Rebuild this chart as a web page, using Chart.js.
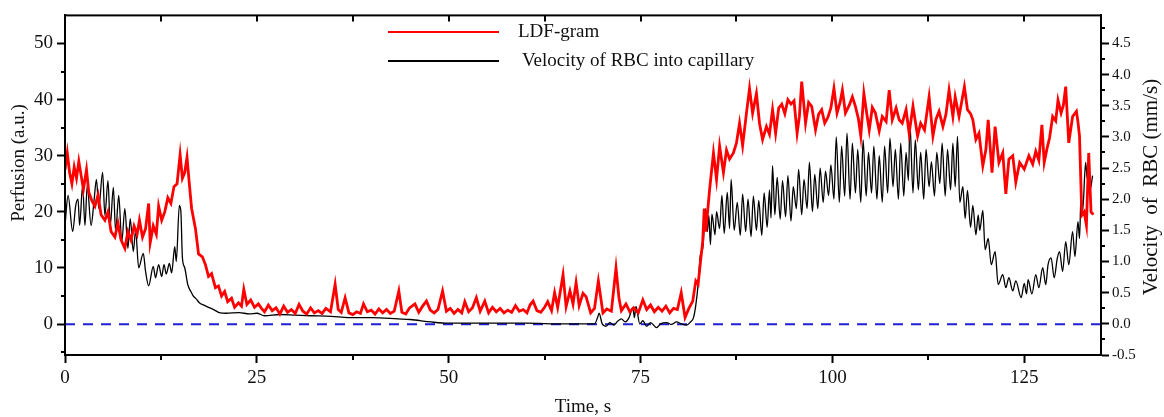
<!DOCTYPE html>
<html>
<head>
<meta charset="utf-8">
<script src="https://cdn.jsdelivr.net/npm/chart.js@4"></script>
<style>
  html, body { margin: 0; padding: 0; background: #fff; }
  #wrap { width: 1164px; height: 417px; }
</style>
</head>
<body>
<div id="wrap"><canvas id="graph" width="1164" height="417"></canvas></div>
<script>
// [time s, perfusion a.u.]
const ldfGram = [
  [0,27.5],[0.3,30.5],[0.6,27],[0.9,25],[1.2,28],[1.5,26],[1.8,29],[2.1,26.5],[2.4,24],[2.8,27.5],
  [3.1,23.5],[3.5,22],[3.9,21],[4.3,23],[4.7,19.5],[5.2,18.5],[5.6,20],[6.0,16.5],[6.5,15.5],[6.9,18],
  [7.3,15],[7.8,13.5],[8.2,16.5],[8.6,15],[9.0,17.5],[9.4,16],[9.7,18.5],[10.1,15.5],[10.5,17],[10.9,21.5],
  [11.1,14.5],[11.5,17.5],[11.9,16],[12.2,21],[12.6,18.5],[13.0,20],[13.4,22.5],[13.8,21.5],[14.2,24.5],[14.6,25],
  [15.0,30.2],[15.3,26],[15.6,27],[15.9,29.7],[16.2,25],[16.5,20.6],[17.0,17],[17.4,12.5],[17.9,12],[18.3,10.6],
  [18.7,8.5],[19.1,9],[19.6,6.5],[20.0,6.8],[20.4,5],[20.8,5.8],[21.2,4],[21.7,4.6],[22.1,3],[22.6,3.8],
  [23.0,3.2],[23.3,6.2],[23.7,3.5],[24.2,4.3],[24.7,3],[25.2,3.6],[25.6,2.8],[26.0,2.2],[26.5,3.4],[27.0,2.4],
  [27.5,2.9],[28.0,1.8],[28.5,3.2],[29.0,2.1],[29.5,2.6],[30.0,1.9],[30.5,3.5],[31.0,2.3],[31.5,1.8],[32.0,2.9],
  [32.5,2.0],[33.0,2.4],[33.5,1.9],[34.0,2.8],[34.6,2.2],[35.2,7.1],[35.6,2.6],[36.0,2.1],[36.5,4.7],[37.0,2.0],
  [37.5,1.7],[38.0,2.2],[38.5,1.9],[38.9,3.6],[39.4,2.2],[39.9,2.5],[40.4,1.8],[40.9,2.7],[41.4,2.0],[41.9,2.6],
  [42.4,1.9],[42.9,2.3],[43.5,5.9],[43.9,2.1],[44.4,1.8],[44.9,2.9],[45.6,3.6],[46.1,2.1],[46.6,3.2],[47.1,4.1],
  [47.6,2.5],[48.1,2.0],[48.6,2.6],[49.2,5.9],[49.7,2.3],[50.2,2.8],[50.7,1.9],[51.2,2.6],[51.7,2.0],[52.1,4.0],
  [52.6,2.2],[53.1,2.9],[53.6,4.7],[54.1,2.3],[54.7,4.1],[55.2,2.0],[55.7,3.0],[56.2,2.2],[56.7,2.8],[57.2,2.0],
  [57.7,2.5],[58.2,2.1],[58.7,3.3],[59.2,2.3],[59.7,2.6],[60.2,2.0],[60.6,3.4],[61.0,4.1],[61.5,2.4],[62.0,2.1],
  [62.5,3.0],[62.9,4.0],[63.4,2.4],[63.8,5.6],[64.2,3.0],[64.9,8.8],[65.3,3.1],[65.8,5.9],[66.2,3.6],[66.6,7.4],
  [67.0,3.3],[67.5,5.5],[67.9,4.9],[68.5,2.0],[69.0,2.8],[69.5,7.7],[70.1,2.0],[70.6,2.7],[71.2,2.3],[71.8,10.0],
  [72.2,4.5],[72.5,2.4],[73.1,3.6],[73.6,2.2],[74.1,2.9],[74.7,2.0],[75.3,4.3],[75.8,2.6],[76.3,3.4],[76.8,2.2],
  [77.3,3.0],[77.8,2.3],[78.3,3.2],[78.8,2.0],[79.3,2.8],[79.8,2.6],[80.3,5.6],[80.8,1.2],[81.3,2.8],[81.8,4.1],
  [82.2,7.7],[82.5,7.1],[82.8,11],[83.1,14.7],[83.3,20.6],[83.5,16.5],[84.0,24],[84.5,30.5],[84.9,25.8],[85.3,31.7],
  [85.8,27],[86.2,31],[86.6,29.4],[87.1,30.5],[87.5,32.3],[87.9,35.8],[88.3,31.8],[88.8,37.6],[89.2,42],[89.6,37.6],
  [90.1,41.1],[90.5,35.8],[90.9,32.9],[91.4,35.2],[91.8,33.8],[92.2,38.2],[92.6,34],[93.0,38.5],[93.4,39.2],[93.8,37.5],
  [94.2,40],[94.6,39.2],[95.0,39.8],[95.4,34],[95.7,37],[96.0,43.2],[96.5,35.8],[96.9,39.5],[97.3,38.8],[97.8,34.6],
  [98.2,37.4],[98.6,38.2],[99.0,35.8],[99.4,36.8],[99.8,38.5],[100.2,42],[100.6,37.6],[101.0,39.5],[101.3,41.7],[101.7,37.6],
  [102.2,39],[102.6,40.5],[103.0,38.8],[103.4,36.5],[103.7,33.5],[104.1,41.1],[104.5,37.3],[104.8,34.6],[105.2,38.6],[105.6,37.6],
  [106.1,34.4],[106.5,37],[107.0,36.1],[107.4,41.7],[107.8,36.4],[108.3,38.5],[108.7,36.4],[109.1,35.8],[109.6,38.2],[110.0,34],
  [110.5,38.8],[111.1,33.5],[111.5,35.8],[112.0,34.6],[112.6,40.5],[113.1,33.5],[113.5,36.5],[113.9,37.9],[114.4,35.2],[114.8,37.4],
  [115.2,41.7],[115.7,37],[116.0,40.5],[116.5,37],[117.2,42.3],[117.6,38.2],[118.0,37.5],[118.3,36.4],[118.7,32.9],[119.1,34],
  [119.6,28.2],[120.0,31.1],[120.3,36.4],[120.8,27],[121.2,35.2],[121.7,28.8],[122.2,30.5],[122.6,23.2],[123.0,29.4],[123.5,30],
  [123.9,25.3],[124.4,28.8],[125.0,27.6],[125.6,30],[126.1,28.5],[126.5,30.8],[126.9,29.2],[127.3,35.5],[127.6,28.8],[128.0,31.5],
  [128.3,33.2],[128.7,37],[129.1,36.2],[129.4,39.9],[129.8,37.6],[130.1,39],[130.4,42.3],[130.8,32.3],[131.3,37],[131.8,37.9],
  [132.0,36],[132.2,33.5],[132.5,19.4],[132.8,20],[133.1,17.6],[133.4,30.5],[133.7,20],[134.0,19.5]
];

// [time s, velocity mm/s]
const rbcVelocity = [
  [0,1.58],[0.4,2.06],[1.0,1.48],[1.4,1.9],[1.7,2.0],[1.9,1.58],[2.3,2.22],[2.6,1.58],[2.9,2.22],[3.4,1.58],
  [3.8,2.0],[4.1,2.32],[4.4,1.85],[4.9,2.43],[5.2,1.74],[5.6,2.3],[5.9,1.58],[6.3,2.19],[6.6,1.48],[7.0,2.06],
  [7.4,1.32],[7.8,1.85],[8.2,1.21],[8.5,1.69],[8.9,1.16],[9.2,1.5],[9.6,0.9],[10.2,1.13],[10.5,0.84],[10.9,0.61],
  [11.5,0.92],[11.8,0.74],[12.2,0.95],[12.6,0.76],[12.9,0.95],[13.2,0.8],[13.6,0.97],[13.9,0.82],[14.3,1.24],[14.5,1.0],
  [14.9,1.9],[15.1,1.8],[15.3,1.06],[15.6,0.9],[16.0,0.63],[16.4,0.52],[16.7,0.45],[17.1,0.4],[17.5,0.34],[18.1,0.3],
  [18.8,0.26],[19.5,0.22],[20.1,0.18],[21.0,0.17],[22.7,0.18],[24.0,0.16],[25.0,0.17],[26.0,0.13],[28.0,0.15],[30.0,0.14],
  [32.0,0.13],[34.7,0.12],[37.0,0.1],[40.0,0.1],[43.4,0.08],[45.0,0.07],[47.7,0.03],[50,0.01],[55,0.01],[60,0.01],
  [65,0.0],[69.0,0.0],[69.4,0.1],[69.6,0.17],[70.0,0.0],[70.5,-0.04],[71.0,0.02],[71.5,-0.02],[72.0,0.04],[72.5,0.08],
  [73.0,0.03],[73.5,0.1],[74.0,0.26],[74.2,0.1],[74.4,0.28],[74.9,0.0],[75.3,0.05],[75.8,-0.04],[76.3,0.02],[77.1,-0.06],
  [77.6,0.0],[78.4,0.02],[79.0,-0.01],[79.7,0.03],[80.3,0.0],[81.0,-0.02],[81.5,0.03],[81.9,0.1],[82.2,0.3],[82.5,0.63],
  [82.8,1.11],[83.1,1.21],[83.5,1.85],[83.7,1.48],[83.9,1.74],[84.1,1.27],[84.3,1.76],[84.7,1.43],[84.9,1.8],[85.3,1.53],
  [85.6,2.06],[85.9,1.45],[86.3,2.11],[86.6,1.53],[86.8,2.32],[87.2,1.5],[87.6,1.95],[88.0,1.42],[88.3,2.08],[88.7,1.48],
  [89.0,2.0],[89.4,1.4],[89.7,2.05],[90.1,1.5],[90.4,1.98],[90.8,1.42],[91.1,2.1],[91.5,1.55],[91.8,2.15],[92.0,1.7],
  [92.2,2.54],[92.5,1.75],[92.8,2.35],[93.2,1.68],[93.5,2.3],[93.9,1.72],[94.2,2.38],[94.6,1.65],[94.9,2.2],[95.3,1.85],
  [95.6,2.48],[96.0,1.75],[96.3,2.32],[96.7,1.85],[97.0,2.59],[97.4,1.8],[97.7,2.4],[98.1,1.85],[98.4,2.5],[98.8,1.95],
  [99.1,2.45],[99.5,2.06],[99.8,2.55],[100.2,2.0],[100.5,3.0],[100.9,1.95],[101.2,2.85],[101.6,2.05],[101.9,3.06],[102.3,2.0],
  [102.6,2.9],[103.0,2.1],[103.3,2.8],[103.7,1.95],[104.0,2.95],[104.4,2.05],[104.7,2.75],[105.1,2.1],[105.4,2.85],[105.8,2.0],
  [106.1,2.7],[106.5,1.95],[106.8,2.85],[107.2,2.1],[107.5,2.98],[107.9,2.2],[108.2,2.8],[108.6,2.0],[108.9,2.9],[109.3,2.05],
  [109.6,2.75],[109.9,2.3],[110.1,3.22],[110.5,2.1],[110.8,2.95],[111.2,2.15],[111.5,2.75],[111.9,2.0],[112.2,2.8],[112.6,2.2],
  [112.9,2.6],[113.3,2.05],[113.6,2.75],[114.0,2.25],[114.3,2.9],[114.7,2.05],[115.0,2.8],[115.4,2.15],[115.7,2.9],[116.0,2.2],
  [116.3,3.01],[116.6,1.95],[117.0,2.2],[117.3,1.69],[117.6,2.14],[118.0,1.55],[118.3,1.9],[118.7,1.43],[119.0,1.75],[119.2,1.5],
  [119.6,1.82],[119.9,1.19],[120.3,1.37],[120.7,0.95],[121.2,1.16],[121.6,0.63],[122.2,0.79],[122.6,0.58],[123.0,0.74],[123.5,0.53],
  [123.9,0.69],[124.6,0.42],[125.0,0.65],[125.3,0.48],[125.5,0.71],[126.0,0.48],[126.5,0.79],[126.9,0.58],[127.4,0.9],[127.8,0.63],
  [128.1,0.95],[128.5,1.06],[128.9,0.74],[129.3,1.05],[129.6,1.16],[130.0,0.84],[130.4,1.32],[130.8,0.95],[131.3,1.48],[131.6,1.08],
  [132.0,1.64],[132.2,1.37],[132.4,2.06],[132.6,1.8],[133.0,2.59],[133.2,2.33],[133.4,2.48],[133.6,2.16],[133.9,2.38]
];

const zeroLine = [[0, 0], [135, 0]];

const timeTicks = [0, 25, 50, 75, 100, 125];
const timeMinor = [12.5, 37.5, 62.5, 87.5, 112.5];
const perfusionTicks = [0, 10, 20, 30, 40, 50];
const perfusionMinor = [-5, 5, 15, 25, 35, 45];
const velocityTicks = [-0.5, 0, 0.5, 1, 1.5, 2, 2.5, 3, 3.5, 4, 4.5];
const velocityMinor = [-0.25, 0.25, 0.75, 1.25, 1.75, 2.25, 2.75, 3.25, 3.75, 4.25, 4.75];

const serif = "'Liberation Serif', 'DejaVu Serif', serif";

function toXY(list) {
  return list.map(p => ({ x: p[0], y: p[1] }));
}

// frame, minor ticks, axis titles and legend
const decor = {
  id: 'decor',
  afterDraw(chart) {
    const ctx = chart.ctx;
    const a = chart.chartArea;
    const x = chart.scales.x, y = chart.scales.y, y1 = chart.scales.y1;
    ctx.save();
    ctx.strokeStyle = '#000';
    ctx.lineWidth = 2;
    ctx.strokeRect(a.left, a.top, a.right - a.left, a.bottom - a.top);

    ctx.beginPath();
    perfusionMinor.forEach(v => {
      const py = Math.round(y.getPixelForValue(v));
      ctx.moveTo(a.left - 4, py); ctx.lineTo(a.left, py);
    });
    velocityMinor.forEach(v => {
      const py = Math.round(y1.getPixelForValue(v));
      if (py < a.top) return;
      ctx.moveTo(a.right, py); ctx.lineTo(a.right + 4, py);
    });
    timeMinor.forEach(v => {
      const px = Math.round(x.getPixelForValue(v));
      ctx.moveTo(px, a.bottom); ctx.lineTo(px, a.bottom + 5);
    });
    timeTicks.concat(timeMinor).forEach(v => {
      const px = Math.round(x.getPixelForValue(v));
      if (px <= a.left + 1) return;
      ctx.moveTo(px, a.top); ctx.lineTo(px, a.top + 6);
    });
    ctx.stroke();

    ctx.fillStyle = '#111';
    ctx.font = '19px ' + serif;
    ctx.textAlign = 'center';
    ctx.textBaseline = 'middle';
    ctx.fillText('Time, s', (a.left + a.right) / 2, 407);

    ctx.save();
    ctx.translate(19, 163);
    ctx.rotate(-Math.PI / 2);
    ctx.fillText('Perfusion (a.u.)', 0, 0);
    ctx.restore();

    ctx.save();
    ctx.font = '21px ' + serif;
    ctx.translate(1151, 187);
    ctx.rotate(-Math.PI / 2);
    ctx.fillText('Velocity  of  RBC (mm/s)', 0, 0);
    ctx.restore();

    // legend
    const ds = chart.data.datasets;
    const rows = [{ d: ds[1], y: 32, tx: 518 }, { d: ds[0], y: 61, tx: 522 }];
    ctx.textAlign = 'left';
    ctx.font = '19px ' + serif;
    rows.forEach(r => {
      ctx.beginPath();
      ctx.strokeStyle = r.d.borderColor;
      ctx.lineWidth = 2;
      ctx.moveTo(388, r.y); ctx.lineTo(499, r.y);
      ctx.stroke();
      ctx.fillText(r.d.label, r.tx, r.y);
    });
    ctx.restore();
  }
};

new Chart(document.getElementById('graph').getContext('2d'), {
  type: 'line',
  data: {
    datasets: [
      {
        label: 'Velocity of RBC into capillary',
        data: toXY(rbcVelocity),
        yAxisID: 'y1',
        borderColor: '#000',
        borderWidth: 1.3,
        pointRadius: 0,
        cubicInterpolationMode: 'monotone',
        order: 2
      },
      {
        label: 'LDF-gram',
        data: toXY(ldfGram),
        yAxisID: 'y',
        borderColor: '#ff0000',
        borderWidth: 2.8,
        pointRadius: 0,
        order: 1
      },
      {
        label: 'zero',
        data: toXY(zeroLine),
        yAxisID: 'y',
        borderColor: '#1f1fd6',
        borderWidth: 2,
        borderDash: [10, 8],
        pointRadius: 0,
        order: 3
      }
    ]
  },
  options: {
    responsive: false,
    animation: false,
    devicePixelRatio: 1,
    layout: { padding: { top: 11, left: 0, right: 0, bottom: 0 } },
    plugins: { legend: { display: false }, tooltip: { enabled: false } },
    scales: {
      x: {
        type: 'linear',
        min: 0,
        max: 135,
        afterBuildTicks: s => { s.ticks = timeTicks.map(v => ({ value: v })); },
        afterFit: s => { s.height = 62; },
        grid: { drawOnChartArea: false, tickLength: 8, tickWidth: 2, tickColor: '#000' },
        border: { display: true, color: '#000', width: 2 },
        ticks: { color: '#111', font: { family: serif, size: 19 }, padding: 4, maxRotation: 0 }
      },
      y: {
        position: 'left',
        min: -5.5,
        max: 55,
        afterBuildTicks: s => { s.ticks = perfusionTicks.map(v => ({ value: v })); },
        afterFit: s => { s.width = 65; },
        grid: { drawOnChartArea: false, tickLength: 8, tickWidth: 2, tickColor: '#000' },
        border: { display: true, color: '#000', width: 2 },
        ticks: { color: '#111', font: { family: serif, size: 19 }, padding: 4 }
      },
      y1: {
        position: 'right',
        min: -0.5,
        max: 4.95,
        afterBuildTicks: s => { s.ticks = velocityTicks.map(v => ({ value: v })); },
        afterFit: s => { s.width = 63; },
        grid: { drawOnChartArea: false, tickLength: 8, tickWidth: 2, tickColor: '#000' },
        border: { display: true, color: '#000', width: 2 },
        ticks: {
          color: '#111',
          font: { family: serif, size: 15 },
          padding: 3,
          callback: v => v.toFixed(1)
        }
      }
    }
  },
  plugins: [decor]
});
</script>
</body>
</html>
